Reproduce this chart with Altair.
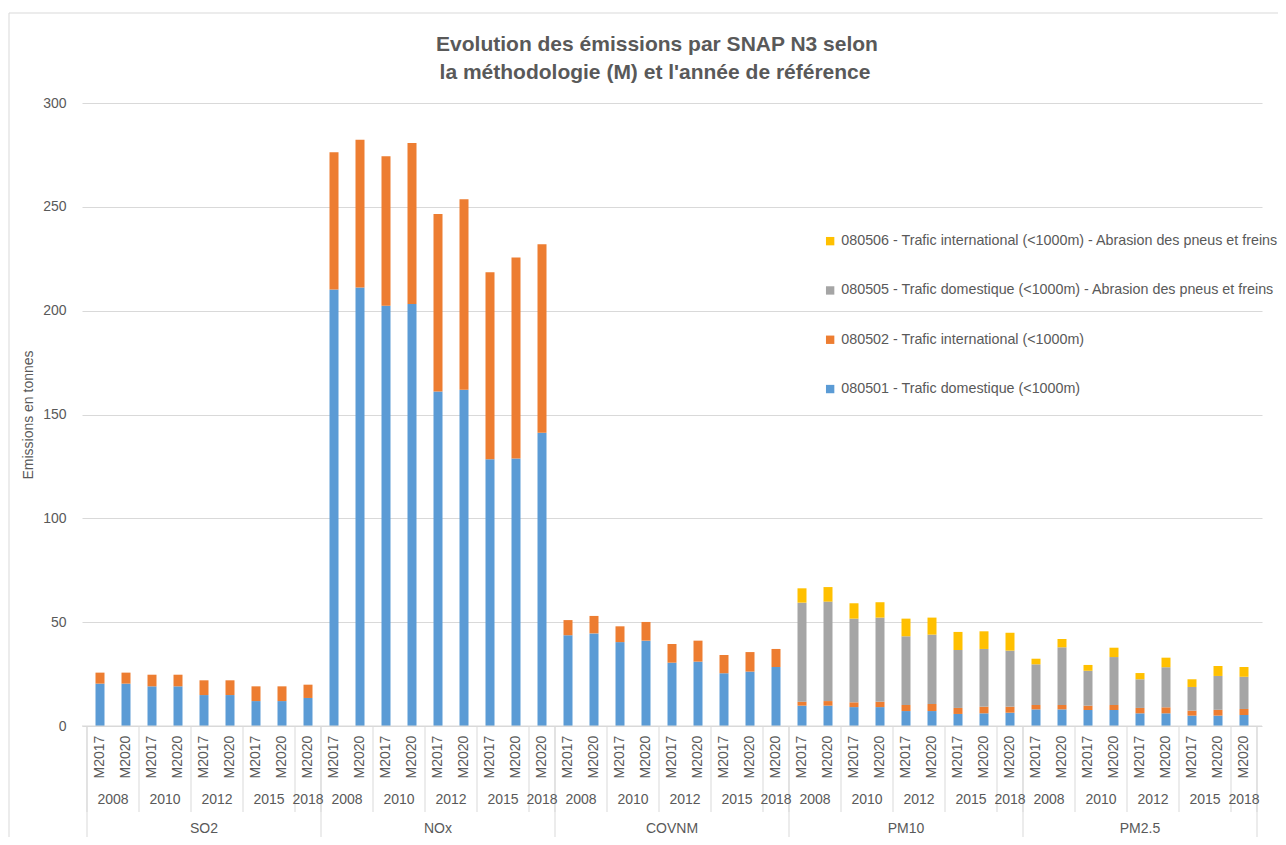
import altair as alt
import pandas as pd

# ---------------- data ----------------
pollutants = ["SO2", "NOx", "COVNM", "PM10", "PM2.5"]
years = ["2008", "2008", "2010", "2010", "2012", "2012", "2015", "2015", "2018"]
methods = ["M2017", "M2020", "M2017", "M2020", "M2017", "M2020", "M2017", "M2020", "M2020"]

series = [
    "080501 - Trafic domestique (<1000m)",
    "080502 - Trafic international (<1000m)",
    "080505 - Trafic domestique (<1000m) - Abrasion des pneus et freins",
    "080506 - Trafic international (<1000m) - Abrasion des pneus et freins",
]
colors = ["#5b9bd5", "#ed7d31", "#a5a5a5", "#ffc000"]

title_lines = ["Evolution des émissions par SNAP N3 selon",
               "la méthodologie (M)  et l'année de référence"]

# values per pollutant, 9 bars each (2008 M2017, 2008 M2020, ..., 2018 M2020)
v080501 = {
    "SO2":   [20.4, 20.4, 19.1, 19.1, 14.9, 14.9, 12.0, 12.0, 13.5],
    "NOx":   [210.2, 211.2, 202.4, 203.2, 161.1, 161.9, 128.5, 128.8, 141.2],
    "COVNM": [43.7, 44.6, 40.4, 41.1, 30.5, 31.0, 25.4, 26.2, 28.4],
    "PM10":  [9.8, 9.8, 9.1, 9.1, 7.2, 7.2, 5.8, 6.1, 6.4],
    "PM2.5": [8.0, 8.0, 7.7, 7.7, 6.1, 6.1, 5.0, 5.0, 5.3],
}
v080502 = {
    "SO2":   [5.3, 5.3, 5.6, 5.6, 7.1, 7.1, 7.1, 7.1, 6.4],
    "NOx":   [66.1, 71.1, 72.0, 77.5, 85.4, 91.8, 90.0, 96.8, 90.8],
    "COVNM": [7.3, 8.4, 7.6, 9.0, 9.0, 10.1, 8.8, 9.4, 8.7],
    "PM10":  [1.9, 2.2, 2.3, 2.6, 2.9, 3.4, 2.9, 3.2, 2.9],
    "PM2.5": [2.1, 2.1, 2.1, 2.4, 2.6, 2.9, 2.4, 2.8, 2.9],
}
v080505 = {
    "SO2":   [0, 0, 0, 0, 0, 0, 0, 0, 0],
    "NOx":   [0, 0, 0, 0, 0, 0, 0, 0, 0],
    "COVNM": [0, 0, 0, 0, 0, 0, 0, 0, 0],
    "PM10":  [47.7, 47.9, 40.3, 40.5, 33.1, 33.4, 27.9, 27.8, 27.0],
    "PM2.5": [19.6, 27.8, 16.8, 23.1, 13.8, 19.3, 11.4, 16.3, 15.5],
}
v080506 = {
    "SO2":   [0, 0, 0, 0, 0, 0, 0, 0, 0],
    "NOx":   [0, 0, 0, 0, 0, 0, 0, 0, 0],
    "COVNM": [0, 0, 0, 0, 0, 0, 0, 0, 0],
    "PM10":  [6.9, 7.0, 7.4, 7.4, 8.5, 8.2, 8.7, 8.5, 8.6],
    "PM2.5": [2.7, 4.0, 2.8, 4.5, 3.0, 4.6, 3.7, 4.8, 4.7],
}
all_values = [v080501, v080502, v080505, v080506]

# ---------------- tables ----------------
rows, cats = [], []
i = 0
for p in pollutants:
    for k in range(len(years)):
        cats.append({"idx": i, "pollutant": p, "year": years[k], "method": methods[k],
                     "ygroup": p + "|" + years[k]})
        for s_i, s in enumerate(series):
            rows.append({"idx": i, "series": s, "ord": s_i, "value": all_values[s_i][p][k]})
        i += 1
bars = pd.DataFrame(rows)
bars = bars[bars["value"] > 0]
cat = pd.DataFrame(cats)

ygrp = cat.groupby("ygroup", sort=False).agg(pos=("idx", "mean"), lo=("idx", "min"),
                                             hi=("idx", "max"), year=("year", "first")).reset_index()
pgrp = cat.groupby("pollutant", sort=False).agg(pos=("idx", "mean"), lo=("idx", "min"),
                                                hi=("idx", "max")).reset_index()
ysep = pd.DataFrame({"b": sorted(set(list(ygrp["lo"] - 0.5) + list(ygrp["hi"] + 0.5)))})
psep = pd.DataFrame({"b": sorted(set(list(pgrp["lo"] - 0.5) + list(pgrp["hi"] + 0.5)))})

W, H = 1180, 623
N = len(cat)
TXT = "#595959"
LINE = "#d9d9d9"
FS = 14

xs = alt.Scale(domain=[-0.5, N - 0.5], nice=False, zero=False)

bar_layer = alt.Chart(bars).mark_bar(size=9).encode(
    x=alt.X("idx:Q", scale=xs, axis=None),
    y=alt.Y("value:Q", stack="zero",
            scale=alt.Scale(domain=[0, 300], nice=False),
            axis=alt.Axis(values=[0, 50, 100, 150, 200, 250, 300], title="Emissions en tonnes",
                          domain=False, ticks=False, grid=True, gridColor=LINE,
                          labelColor=TXT, labelFontSize=FS, labelPadding=16,
                          titleColor=TXT, titleFontSize=FS, titleFontWeight="normal",
                          titlePadding=7)),
    color=alt.Color("series:N",
                    scale=alt.Scale(domain=series[::-1], range=colors[::-1]),
                    legend=alt.Legend(title=None, orient="none", legendX=741, legendY=131,
                                      symbolType="square", symbolSize=70, symbolStrokeWidth=0,
                                      labelFontSize=14.3, labelColor=TXT, rowPadding=34.3,
                                      labelLimit=600, padding=0, labelOffset=4)),
    order=alt.Order("ord:Q", sort="ascending"),
)

axis_line = alt.Chart(pd.DataFrame({"a": [0]})).mark_rule(color=LINE, strokeWidth=1).encode(
    x=alt.value(0), x2=alt.value(W), y=alt.value(H))

ysep_layer = alt.Chart(ysep).mark_rule(color=LINE, strokeWidth=1).encode(
    x=alt.X("b:Q", scale=xs), y=alt.value(H), y2=alt.value(H + 86))
psep_layer = alt.Chart(psep).mark_rule(color=LINE, strokeWidth=1).encode(
    x=alt.X("b:Q", scale=xs), y=alt.value(H), y2=alt.value(H + 120))

mlab = alt.Chart(cat).mark_text(angle=270, align="center", baseline="middle",
                                fontSize=FS, color=TXT).encode(
    x=alt.X("idx:Q", scale=xs), y=alt.value(H + 31), text="method:N")
ylab = alt.Chart(ygrp).mark_text(align="center", baseline="middle",
                                 fontSize=FS, color=TXT).encode(
    x=alt.X("pos:Q", scale=xs), y=alt.value(H + 74), text="year:N")
plab = alt.Chart(pgrp).mark_text(align="center", baseline="middle",
                                 fontSize=FS, color=TXT).encode(
    x=alt.X("pos:Q", scale=xs), y=alt.value(H + 103), text="pollutant:N")

title1 = alt.Chart(pd.DataFrame({"t": [title_lines[0]]})).mark_text(
    align="center", baseline="middle", fontSize=21, fontWeight="bold", color=TXT).encode(
    x=alt.value(W / 2 - 15), y=alt.value(-58), text="t:N")
title2 = alt.Chart(pd.DataFrame({"t": [title_lines[1]]})).mark_text(
    align="center", baseline="middle", fontSize=21, fontWeight="bold", color=TXT).encode(
    x=alt.value(W / 2 - 17), y=alt.value(-30), text="t:N")

frame_left = alt.Chart(pd.DataFrame({"a": [0]})).mark_rule(color=LINE).encode(
    x=alt.value(-73), y=alt.value(-90), y2=alt.value(H + 120))
frame_top = alt.Chart(pd.DataFrame({"a": [0]})).mark_rule(color=LINE).encode(
    x=alt.value(-73), x2=alt.value(W + 16), y=alt.value(-90))

chart = alt.layer(
    frame_left, frame_top, bar_layer, axis_line, ysep_layer, psep_layer, mlab, ylab, plab,
    title1, title2
).properties(
    width=W, height=H,
    autosize=alt.AutoSizeParams(type="none"),
    padding={"left": 74, "top": 95, "right": 16, "bottom": 111},
).configure(font="Liberation Sans").configure_view(stroke=None)

chart.save("out.html", embed_options={"renderer": "svg", "actions": False})
